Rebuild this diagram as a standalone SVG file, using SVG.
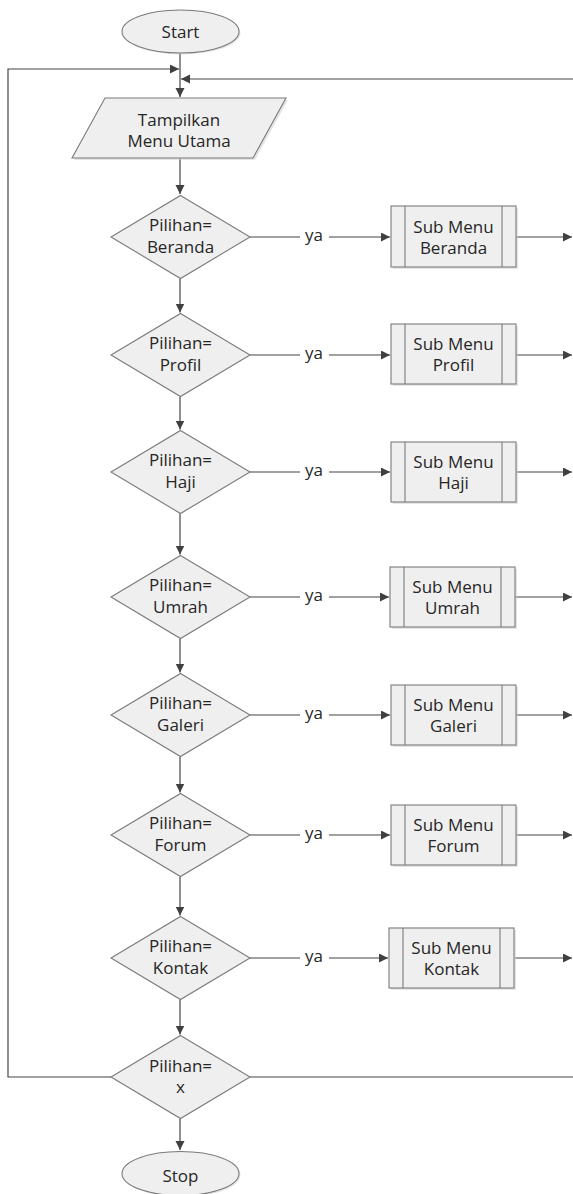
<svg xmlns="http://www.w3.org/2000/svg" width="573" height="1194" viewBox="0 0 573 1194">
<style>
.shape{fill:#efefef;stroke:#7a7a7a;stroke-width:1.1}
.shadow{fill:#cfcfcf;opacity:0.55}
.conn{fill:none;stroke:#454545;stroke-width:1.2}
text{font-family:"Open Sans","Noto Sans","DejaVu Sans",sans-serif;font-size:17px;fill:#262626;text-anchor:middle}
</style>
<defs>
<marker id="ah" markerUnits="userSpaceOnUse" markerWidth="10" markerHeight="10" refX="9" refY="4.5" orient="auto">
<path d="M0,0 L9,4.5 L0,9 z" fill="#404040"/>
</marker>
</defs>
<rect width="573" height="1194" fill="#ffffff"/>

<g id="connectors">
<path class="conn" d="M180,53 V97" marker-end="url(#ah)"/>
<path class="conn" d="M111,1077 H8 V69 H179" marker-end="url(#ah)"/>
<path class="conn" d="M250,1077 H573"/>
<path class="conn" d="M573,79 H181" marker-end="url(#ah)"/>
<path class="conn" d="M180,158 V194" marker-end="url(#ah)"/>
<path class="conn" d="M180,278.5 V312.5" marker-end="url(#ah)"/>
<path class="conn" d="M180,396.5 V429.5" marker-end="url(#ah)"/>
<path class="conn" d="M180,513.5 V554.5" marker-end="url(#ah)"/>
<path class="conn" d="M180,638.5 V672.5" marker-end="url(#ah)"/>
<path class="conn" d="M180,756.5 V792.5" marker-end="url(#ah)"/>
<path class="conn" d="M180,876.5 V915.5" marker-end="url(#ah)"/>
<path class="conn" d="M180,999.5 V1034.5" marker-end="url(#ah)"/>
<path class="conn" d="M180,1118.5 V1150" marker-end="url(#ah)"/>
<path class="conn" d="M250,237 H300 M329,237 H390" marker-end="url(#ah)"/>
<path class="conn" d="M250,355 H300 M329,355 H390" marker-end="url(#ah)"/>
<path class="conn" d="M250,472 H300 M329,472 H390" marker-end="url(#ah)"/>
<path class="conn" d="M250,597 H300 M329,597 H389" marker-end="url(#ah)"/>
<path class="conn" d="M250,715 H300 M329,715 H390" marker-end="url(#ah)"/>
<path class="conn" d="M250,835 H300 M329,835 H390" marker-end="url(#ah)"/>
<path class="conn" d="M250,958 H300 M329,958 H388" marker-end="url(#ah)"/>
<path class="conn" d="M516,237 H572" marker-end="url(#ah)"/>
<path class="conn" d="M516,355 H572" marker-end="url(#ah)"/>
<path class="conn" d="M516,472 H572" marker-end="url(#ah)"/>
<path class="conn" d="M515,597 H572" marker-end="url(#ah)"/>
<path class="conn" d="M516,715 H572" marker-end="url(#ah)"/>
<path class="conn" d="M516,835 H572" marker-end="url(#ah)"/>
<path class="conn" d="M515,958 H572" marker-end="url(#ah)"/>
<text x="314" y="241">ya</text>
<text x="314" y="359">ya</text>
<text x="314" y="476">ya</text>
<text x="314" y="601">ya</text>
<text x="314" y="719">ya</text>
<text x="314" y="839">ya</text>
<text x="314" y="962">ya</text>
</g>

<g id="start">
<ellipse class="shadow" cx="182" cy="33" rx="58.5" ry="21.5"/>
<ellipse class="shape" cx="180.5" cy="31.5" rx="58.5" ry="21.5"/>
<text x="180.5" y="38">Start</text>
</g>

<g id="menu-utama">
<polygon class="shadow" points="107,100 288,100 255,160 74,160"/>
<polygon class="shape" points="105,98 286,98 253,158 72,158"/>
<text x="179" y="125.5">Tampilkan</text>
<text x="179" y="146.5">Menu Utama</text>
</g>

<g id="d-beranda">
<polygon class="shape" points="180.5,195.5 250,237 180.5,278.5 111,237"/>
<text x="180.5" y="231">Pilihan=</text>
<text x="180.5" y="253">Beranda</text>
</g>
<g id="b-beranda">
<rect class="shadow" x="393" y="208" width="125" height="61"/>
<rect class="shape" x="391" y="206" width="125" height="61"/>
<path class="shape" d="M405,206 V267 M502,206 V267"/>
<text x="453.5" y="233">Sub Menu</text>
<text x="453.5" y="254">Beranda</text>
</g>

<g id="d-profil">
<polygon class="shape" points="180.5,313.5 250,355 180.5,396.5 111,355"/>
<text x="180.5" y="349">Pilihan=</text>
<text x="180.5" y="371">Profil</text>
</g>
<g id="b-profil">
<rect class="shadow" x="393" y="326" width="125" height="60"/>
<rect class="shape" x="391" y="324" width="125" height="60"/>
<path class="shape" d="M405,324 V384 M502,324 V384"/>
<text x="453.5" y="350">Sub Menu</text>
<text x="453.5" y="371">Profil</text>
</g>

<g id="d-haji">
<polygon class="shape" points="180.5,430.5 250,472 180.5,513.5 111,472"/>
<text x="180.5" y="466">Pilihan=</text>
<text x="180.5" y="488">Haji</text>
</g>
<g id="b-haji">
<rect class="shadow" x="393" y="444" width="125" height="60"/>
<rect class="shape" x="391" y="442" width="125" height="60"/>
<path class="shape" d="M405,442 V502 M502,442 V502"/>
<text x="453.5" y="468">Sub Menu</text>
<text x="453.5" y="489">Haji</text>
</g>

<g id="d-umrah">
<polygon class="shape" points="180.5,555.5 250,597 180.5,638.5 111,597"/>
<text x="180.5" y="591">Pilihan=</text>
<text x="180.5" y="613">Umrah</text>
</g>
<g id="b-umrah">
<rect class="shadow" x="392" y="569" width="125" height="60"/>
<rect class="shape" x="390" y="567" width="125" height="60"/>
<path class="shape" d="M404,567 V627 M501,567 V627"/>
<text x="452.5" y="593">Sub Menu</text>
<text x="452.5" y="614">Umrah</text>
</g>

<g id="d-galeri">
<polygon class="shape" points="180.5,673.5 250,715 180.5,756.5 111,715"/>
<text x="180.5" y="709">Pilihan=</text>
<text x="180.5" y="731">Galeri</text>
</g>
<g id="b-galeri">
<rect class="shadow" x="393" y="687" width="125" height="60"/>
<rect class="shape" x="391" y="685" width="125" height="60"/>
<path class="shape" d="M405,685 V745 M502,685 V745"/>
<text x="453.5" y="711">Sub Menu</text>
<text x="453.5" y="732">Galeri</text>
</g>

<g id="d-forum">
<polygon class="shape" points="180.5,793.5 250,835 180.5,876.5 111,835"/>
<text x="180.5" y="829">Pilihan=</text>
<text x="180.5" y="851">Forum</text>
</g>
<g id="b-forum">
<rect class="shadow" x="393" y="807" width="125" height="60"/>
<rect class="shape" x="391" y="805" width="125" height="60"/>
<path class="shape" d="M405,805 V865 M502,805 V865"/>
<text x="453.5" y="831">Sub Menu</text>
<text x="453.5" y="852">Forum</text>
</g>

<g id="d-kontak">
<polygon class="shape" points="180.5,916.5 250,958 180.5,999.5 111,958"/>
<text x="180.5" y="952">Pilihan=</text>
<text x="180.5" y="974">Kontak</text>
</g>
<g id="b-kontak">
<rect class="shadow" x="391" y="930" width="125" height="60"/>
<rect class="shape" x="389" y="928" width="125" height="60"/>
<path class="shape" d="M403,928 V988 M500,928 V988"/>
<text x="451.5" y="954">Sub Menu</text>
<text x="451.5" y="975">Kontak</text>
</g>

<g id="d-x">
<polygon class="shape" points="180.5,1035.5 250,1077 180.5,1118.5 111,1077"/>
<text x="180.5" y="1072">Pilihan=</text>
<text x="180.5" y="1093">x</text>
</g>

<g id="stop">
<ellipse class="shadow" cx="182" cy="1175" rx="58.5" ry="22"/>
<ellipse class="shape" cx="180.5" cy="1173.5" rx="58.5" ry="22"/>
<text x="180.5" y="1182">Stop</text>
</g>
</svg>
